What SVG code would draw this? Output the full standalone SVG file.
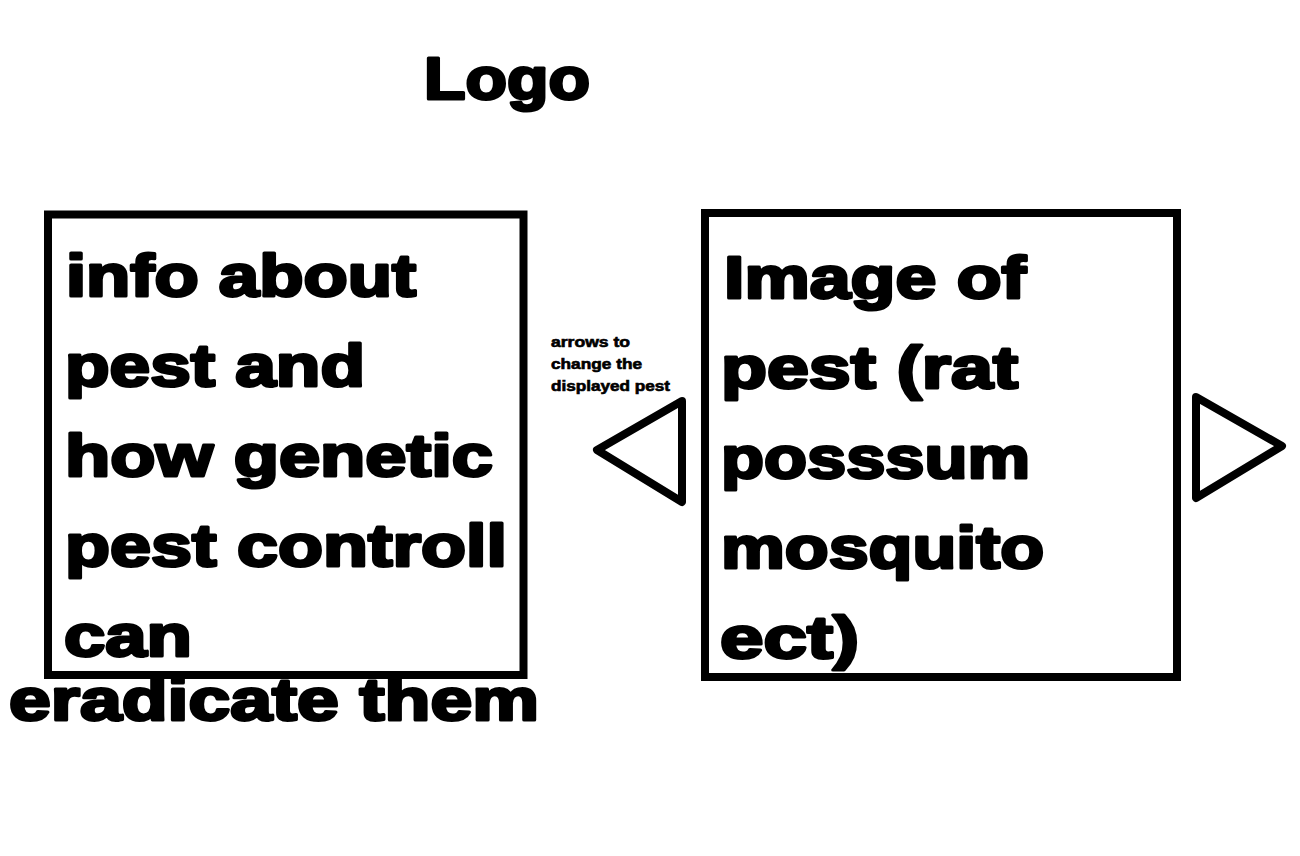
<svg xmlns="http://www.w3.org/2000/svg" width="1300" height="856" viewBox="0 0 1300 856">
<style>
.box{fill:none;stroke:#000;stroke-width:8;}
.tri{fill:none;stroke:#000;stroke-width:8;stroke-linejoin:round;}
.big{font-family:"Liberation Sans",Arial,sans-serif;font-weight:bold;font-size:60px;fill:#000;stroke:#000;stroke-width:3;stroke-linejoin:round;}
.small{font-family:"Liberation Sans",Arial,sans-serif;font-weight:bold;font-size:14px;fill:#000;stroke:#000;stroke-width:0.6;}
</style>
<rect width="1300" height="856" fill="#fff"/>
<g id="logo">
<text class="big" x="424" y="99" textLength="166" lengthAdjust="spacingAndGlyphs">Logo</text>
</g>
<g id="info-box">
<rect class="box" x="48" y="214.5" width="475.5" height="460.5"/>
<text class="big" x="66" y="296" textLength="350" lengthAdjust="spacingAndGlyphs">info about</text>
<text class="big" x="65" y="386" textLength="300" lengthAdjust="spacingAndGlyphs">pest and</text>
<text class="big" x="65" y="476" textLength="428" lengthAdjust="spacingAndGlyphs">how genetic</text>
<text class="big" x="65" y="566" textLength="442" lengthAdjust="spacingAndGlyphs">pest controll</text>
<text class="big" x="64" y="656" textLength="128" lengthAdjust="spacingAndGlyphs">can</text>
<text class="big" x="9" y="720" textLength="530" lengthAdjust="spacingAndGlyphs">eradicate them</text>
</g>
<g id="arrow-note">
<text class="small" x="551" y="347" textLength="79" lengthAdjust="spacingAndGlyphs">arrows to</text>
<text class="small" x="551" y="369" textLength="91" lengthAdjust="spacingAndGlyphs">change the</text>
<text class="small" x="551" y="391" textLength="119" lengthAdjust="spacingAndGlyphs">displayed pest</text>
</g>
<g id="prev-arrow">
<polygon class="tri" points="682,401 597,450 682,502"/>
</g>
<g id="image-box">
<rect class="box" x="705" y="213" width="472" height="464"/>
<text class="big" x="724" y="298" textLength="302" lengthAdjust="spacingAndGlyphs">Image of</text>
<text class="big" x="721" y="388" textLength="297" lengthAdjust="spacingAndGlyphs">pest (rat</text>
<text class="big" x="721" y="478" textLength="309" lengthAdjust="spacingAndGlyphs">posssum</text>
<text class="big" x="721" y="568" textLength="323" lengthAdjust="spacingAndGlyphs">mosquito</text>
<text class="big" x="720" y="658" textLength="139" lengthAdjust="spacingAndGlyphs">ect)</text>
</g>
<g id="next-arrow">
<polygon class="tri" points="1196,397 1282,446 1196,498"/>
</g>
<g id="connectors"/>
</svg>
